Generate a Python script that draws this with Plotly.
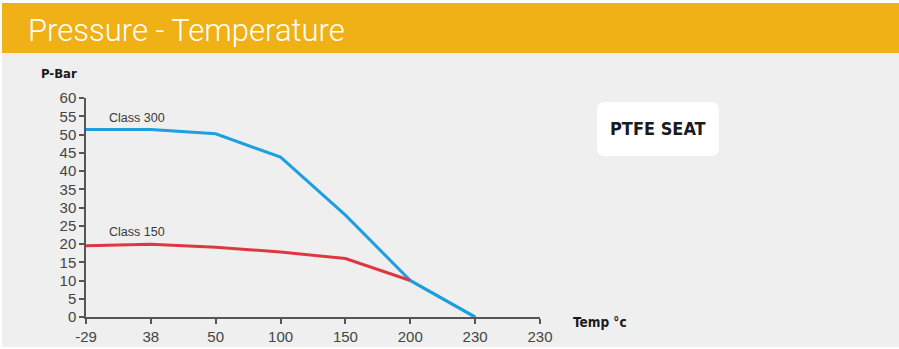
import plotly.graph_objects as go

# ---- data ----
temp_labels = ["-29", "38", "50", "100", "150", "200", "230", "230"]
class300 = [51.4, 51.4, 50.2, 43.8, 27.9, 10.0, 0.0]
class150 = [19.5, 19.9, 19.1, 17.8, 16.0, 10.0]
y_ticks = [0, 5, 10, 15, 20, 25, 30, 35, 40, 45, 50, 55, 60]

W, H = 899, 349
L, R, T, B = 86, 540, 98, 317

def px(x):
    return (x - L) / (R - L)

def py(y):
    return (B - y) / (B - T)

idx = list(range(len(temp_labels)))

fig = go.Figure()
fig.add_trace(go.Scatter(x=idx[:len(class300)], y=class300, mode="lines",
                         line=dict(color="#1E9FDF", width=3), cliponaxis=False,
                         name="Class 300"))
fig.add_trace(go.Scatter(x=idx[:len(class150)], y=class150, mode="lines",
                         line=dict(color="#DF3740", width=3), cliponaxis=False,
                         name="Class 150"))
# redraw blue above red at the junction
fig.add_trace(go.Scatter(x=idx[5:7], y=class300[5:7], mode="lines",
                         line=dict(color="#1E9FDF", width=3), cliponaxis=False,
                         showlegend=False))

shapes = [
    dict(type="rect", xref="paper", yref="paper", x0=px(2), x1=px(899),
         y0=py(347), y1=py(53), fillcolor="#EFEFEF", line_width=0, layer="below"),
    dict(type="rect", xref="paper", yref="paper", x0=px(2), x1=px(899),
         y0=py(53), y1=py(3), fillcolor="#EFB115", line_width=0, layer="below"),
]
# rounded white box for PTFE SEAT
x0, x1, y0, y1, r = 597, 719, 102, 156, 8
def P(x, y):
    return f"{px(x)},{py(y)}"
path = (f"M {P(x0+r,y0)} L {P(x1-r,y0)} Q {P(x1,y0)} {P(x1,y0+r)} "
        f"L {P(x1,y1-r)} Q {P(x1,y1)} {P(x1-r,y1)} L {P(x0+r,y1)} "
        f"Q {P(x0,y1)} {P(x0,y1-r)} L {P(x0,y0+r)} Q {P(x0,y0)} {P(x0+r,y0)} Z")
shapes.append(dict(type="path", xref="paper", yref="paper", layer="below",
                   path=path, fillcolor="white", line_width=0))

ann_font = "Liberation Sans"
bold_font = "DejaVu Sans Condensed, Roboto, sans-serif"
annotations = [
    dict(text="Pressure - Temperature", xref="paper", yref="paper",
         x=px(26), y=py(30), xanchor="left", yanchor="middle", showarrow=False,
         font=dict(family="Roboto", size=31, color="white", weight=300)),
    dict(text="<b>P-Bar</b>", xref="paper", yref="paper",
         x=px(39), y=py(73), xanchor="left", yanchor="middle", showarrow=False,
         font=dict(family=bold_font, size=13, color="#1a1a22")),
    dict(text="<b>Temp °c</b>", xref="paper", yref="paper",
         x=px(571), y=py(322), xanchor="left", yanchor="middle", showarrow=False,
         font=dict(family=bold_font, size=13.5, color="#1a1a22")),
    dict(text="<b>PTFE SEAT</b>", xref="paper", yref="paper",
         x=px(658), y=py(128), xanchor="center", yanchor="middle", showarrow=False,
         font=dict(family=bold_font, size=18, color="#1a1a22")),
    dict(text="Class 300", x=0.33, y=54.5, xref="x", yref="y", xanchor="left",
         yanchor="middle", showarrow=False,
         font=dict(family=ann_font, size=12.5, color="#3a3a3a")),
    dict(text="Class 150", x=0.33, y=23.3, xref="x", yref="y", xanchor="left",
         yanchor="middle", showarrow=False,
         font=dict(family=ann_font, size=12.5, color="#3a3a3a")),
]

fig.update_layout(
    width=W, height=H,
    margin=dict(l=L, r=W - R, t=T, b=H - B, pad=0),
    paper_bgcolor="white", plot_bgcolor="rgba(0,0,0,0)",
    showlegend=False,
    shapes=shapes, annotations=annotations,
    xaxis=dict(range=[0, len(temp_labels) - 1], tickmode="array", tickvals=idx,
               ticktext=temp_labels, showgrid=False, zeroline=False,
               automargin=False,
               showline=True, linecolor="#555555", linewidth=1.5,
               ticks="outside", ticklen=5, tickcolor="#555555", tickwidth=1.5,
               tickfont=dict(family=ann_font, size=15, color="#444444")),
    yaxis=dict(range=[0, 60], tickmode="array", tickvals=y_ticks,
               showgrid=False, zeroline=False, automargin=False,
               showline=True, linecolor="#555555", linewidth=1.5,
               ticks="outside", ticklen=5, tickcolor="#555555", tickwidth=1.5,
               tickfont=dict(family=ann_font, size=15, color="#444444")),
)

post = (
    "var d=document.getElementById('{plot_id}');"
    "d.style.position='fixed';d.style.left='0px';d.style.top='0px';"
    "document.body.style.margin='0';document.body.style.overflow='hidden';"
    "document.documentElement.style.overflow='hidden';"
)
fig.write_html("out.html", config={"displayModeBar": False}, post_script=post)
